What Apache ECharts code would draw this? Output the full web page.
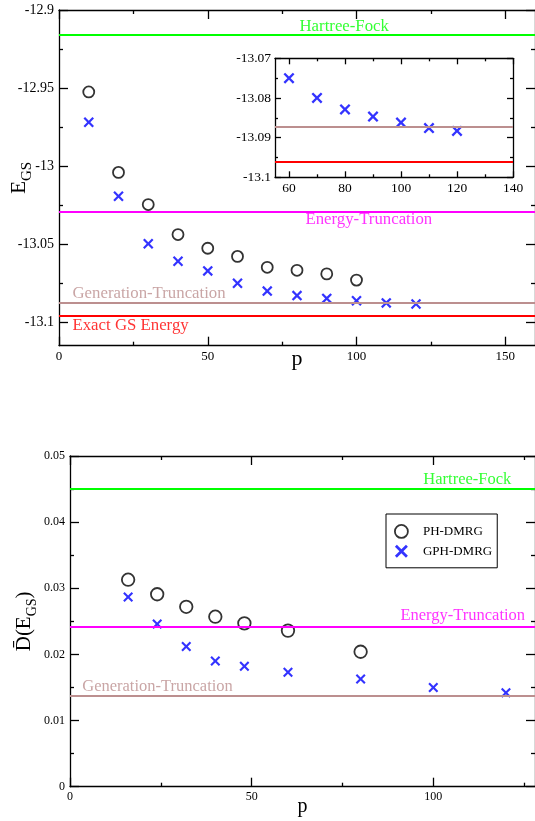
<!DOCTYPE html>
<html><head><meta charset="utf-8">
<script src="https://cdn.jsdelivr.net/npm/echarts@6/dist/echarts.min.js"></script>
<style>html,body{margin:0;padding:0;background:#fff}#c{width:535px;height:821px}</style>
</head><body><div id="c"></div>
<script>
// ---------- data ----------
const pTopPH  = [10, 20, 30, 40, 50, 60, 70, 80, 90, 100];
const eTopPH  = [-12.9525, -13.004, -13.0246, -13.0438, -13.0526, -13.0578, -13.0648, -13.0667, -13.069, -13.073];
const pTopGPH = [10, 20, 30, 40, 50, 60, 70, 80, 90, 100, 110, 120];
const eTopGPH = [-12.9719, -13.0193, -13.0497, -13.0609, -13.0671, -13.075, -13.080, -13.0829, -13.0847, -13.0862, -13.0876, -13.0883];
const pInset  = [60, 70, 80, 90, 100, 110, 120];
const eInset  = [-13.075, -13.080, -13.0829, -13.0847, -13.0862, -13.0876, -13.0883];
const refNamesTop  = ['Hartree-Fock', 'Energy-Truncation', 'Generation-Truncation', 'Exact GS Energy'];
const refValuesTop = [-12.916, -13.029, -13.0873, -13.096];

const pBotPH  = [16, 24, 32, 40, 48, 60, 80];
const dBotPH  = [0.0313, 0.0291, 0.0272, 0.0257, 0.0247, 0.0236, 0.0204];
const pBotGPH = [16, 24, 32, 40, 48, 60, 80, 100, 120];
const dBotGPH = [0.0287, 0.0246, 0.0212, 0.0190, 0.0182, 0.0173, 0.0163, 0.0150, 0.0142];
const refNamesBot  = ['Hartree-Fock', 'Energy-Truncation', 'Generation-Truncation'];
const refValuesBot = [0.0450, 0.0242, 0.0138];
const legendNames  = ['PH-DMRG', 'GPH-DMRG'];

const xTicksTop = [0, 50, 100, 150],          xMinorTop = [25, 75, 125];
const yTicksTop = [-13.1, -13.05, -13, -12.95, -12.9], yMinorTop = [-13.075, -13.025, -12.975, -12.925];
const xTicksIn  = [60, 80, 100, 120, 140],    xMinorIn  = [70, 90, 110, 130];
const yTicksIn  = [-13.1, -13.09, -13.08, -13.07], yMinorIn = [-13.095, -13.085, -13.075];
const xTicksBot = [0, 50, 100],               xMinorBot = [25, 75, 125];
const yTicksBot = [0, 0.01, 0.02, 0.03, 0.04, 0.05], yMinorBot = [0.005, 0.015, 0.025, 0.035, 0.045];

// ---------- styles ----------
const FONT = 'Liberation Serif';
const refColorsTop = ['#00ff00', '#ff00ff', '#bc8f8f', '#ff0000'];
const refColorsBot = ['#00ff00', '#ff00ff', '#bc8f8f'];
const XPATH = 'path://M0,1.5L1.5,0L5,3.5L8.5,0L10,1.5L6.5,5L10,8.5L8.5,10L5,6.5L1.5,10L0,8.5L3.5,5Z';
const AXC = {color: '#000', width: 1.3};

function zip(a, b) { return a.map((v, i) => [v, b[i]]); }

function axisSet(kind, gi, min, max, majors, minors, o) {
  const pos = kind === 'x' ? ['bottom', 'top'] : ['left', 'right'];
  const mk = (p, vals, len, showLine, showLabel) => {
    const a = {
      type: 'value', gridIndex: gi, min: min, max: max, position: p,
      nameMoveOverlap: false,
      axisLine: {show: showLine, onZero: false, lineStyle: AXC},
      axisTick: {show: true, inside: true, length: len, customValues: vals, lineStyle: AXC},
      axisLabel: {show: showLabel, customValues: majors, color: '#000', fontFamily: FONT,
                  fontSize: o.fontSize, margin: o.margin},
      splitLine: {show: false}
    };
    if (showLabel && o.name) Object.assign(a, o.name);
    return a;
  };
  return [
    mk(pos[0], majors, o.major, true, true),
    mk(pos[0], minors, o.minor, false, false),
    mk(pos[1], majors, o.major, true, false),
    mk(pos[1], minors, o.minor, false, false)
  ];
}

const xAxes = [].concat(
  axisSet('x', 0, 0, 160, xTicksTop, xMinorTop, {major: 9, minor: 4, fontSize: 13, margin: 4,
    name: {name: 'p', nameLocation: 'middle', nameGap: 3, nameTextStyle: {fontFamily: FONT, fontSize: 22, color: '#000'}}}),
  axisSet('x', 1, 55, 140, xTicksIn, xMinorIn, {major: 6, minor: 3, fontSize: 13.5, margin: 4}),
  axisSet('x', 2, 0, 128, xTicksBot, xMinorBot, {major: 9, minor: 4, fontSize: 12, margin: 4,
    name: {name: 'p', nameLocation: 'middle', nameGap: 10, nameTextStyle: {fontFamily: FONT, fontSize: 20, color: '#000'}}})
);
const yAxes = [].concat(
  axisSet('y', 0, -13.115, -12.9, yTicksTop, yMinorTop, {major: 9, minor: 4, fontSize: 14, margin: 5,
    name: {name: '{e|E}{s|GS}', nameLocation: 'middle', nameRotate: 90, nameGap: 28,
      nameTextStyle: {rich: {
        e: {fontFamily: FONT, fontSize: 21, color: '#000', verticalAlign: 'top', lineHeight: 22},
        s: {fontFamily: FONT, fontSize: 15, color: '#000', verticalAlign: 'top', lineHeight: 16, padding: [11, 0, 0, 0]}}}}}),
  axisSet('y', 1, -13.1, -13.07, yTicksIn, yMinorIn, {major: 6, minor: 3, fontSize: 13.5, margin: 4}),
  axisSet('y', 2, 0, 0.05, yTicksBot, yMinorBot, {major: 9, minor: 4, fontSize: 12, margin: 5,
    name: {name: '{d|D\u0304}{d|(E}{s|GS}{d|)}', nameLocation: 'middle', nameRotate: 90, nameGap: 34,
      nameTextStyle: {rich: {
        d: {fontFamily: FONT, fontSize: 21, color: '#000', verticalAlign: 'top', lineHeight: 22},
        s: {fontFamily: FONT, fontSize: 14, color: '#000', verticalAlign: 'top', lineHeight: 15, padding: [11, 0, 0, 0]}}}}})
);

const circleStyle = (sz) => ({type: 'scatter', symbol: 'circle', symbolSize: sz,
  itemStyle: {color: 'rgba(0,0,0,0)', borderColor: '#000', borderWidth: 1.8}});
const crossStyle = (sz) => ({type: 'scatter', symbol: XPATH, symbolSize: sz, itemStyle: {color: '#0000ff'}});

function refLines(gi, values, colors, width) {
  return {
    type: 'line', xAxisIndex: gi * 4, yAxisIndex: gi * 4, data: [], silent: true,
    markLine: {symbol: 'none', silent: true, animation: false, precision: 8, label: {show: false},
      data: values.map((v, i) => ({yAxis: v, lineStyle: {color: colors[i], width: width, type: 'solid'}}))}
  };
}
// placement of reference line captions: [x in data units, vertical pixel offset]
function refLabels(gi, names, values, colors, place, fs) {
  return names.map((n, i) => ({
    type: 'scatter', xAxisIndex: gi * 4, yAxisIndex: gi * 4, silent: true,
    symbolSize: 1, itemStyle: {color: 'rgba(0,0,0,0)'},
    data: [[place[i][0], values[i]]],
    label: {show: true, formatter: n, position: [0, place[i][1]], align: 'left', verticalAlign: 'middle',
      color: colors[i], fontFamily: FONT, fontSize: fs}
  }));
}

const series = [
  refLines(0, refValuesTop, refColorsTop, 2),
  ...refLabels(0, refNamesTop, refValuesTop, refColorsTop, [[81, -8], [83, 8.5], [4.7, -8.5], [4.7, 9.6]], 16.8),
  Object.assign(circleStyle(11), {name: 'PH top', xAxisIndex: 0, yAxisIndex: 0, data: zip(pTopPH, eTopPH)}),
  Object.assign(crossStyle(10.5), {name: 'GPH top', xAxisIndex: 0, yAxisIndex: 0, data: zip(pTopGPH, eTopGPH)}),

  refLines(1, [refValuesTop[2], refValuesTop[3]], [refColorsTop[2], refColorsTop[3]], 2),
  Object.assign(crossStyle(11), {name: 'GPH inset', xAxisIndex: 4, yAxisIndex: 4, data: zip(pInset, eInset)}),

  refLines(2, refValuesBot, refColorsBot, 2),
  ...refLabels(2, refNamesBot, refValuesBot, refColorsBot, [[97.4, -8.7], [91.1, -10.4], [3.5, -8.6]], 16.5),
  Object.assign(circleStyle(12.5), {name: legendNames[0], xAxisIndex: 8, yAxisIndex: 8, data: zip(pBotPH, dBotPH)}),
  Object.assign(crossStyle(10), {name: legendNames[1], xAxisIndex: 8, yAxisIndex: 8, data: zip(pBotGPH, dBotGPH)})
];

const option = {
  animation: false,
  backgroundColor: '#fff',
  textStyle: {fontFamily: FONT},
  grid: [
    {left: 59, top: 10, right: 0, height: 335.7, containLabel: false, outerBoundsMode: 'none'},
    {left: 275, top: 58.3, width: 238, height: 119, containLabel: false, outerBoundsMode: 'none'},
    {left: 70, top: 456, right: 0, height: 330.7, containLabel: false, outerBoundsMode: 'none'}
  ],
  xAxis: xAxes,
  yAxis: yAxes,
  legend: {
    left: 386, top: 514, orient: 'vertical', selectedMode: false,
    padding: [10, 5, 10, 8], itemWidth: 13, itemHeight: 13, itemGap: 6,
    borderColor: '#000', borderWidth: 1, backgroundColor: '#fff',
    textStyle: {fontFamily: FONT, fontSize: 13, color: '#000', padding: [0, 0, 0, 10]},
    data: [
      {name: legendNames[0], icon: 'circle', itemStyle: {color: 'rgba(0,0,0,0)', borderColor: '#000', borderWidth: 1.8}},
      {name: legendNames[1], icon: XPATH, itemStyle: {color: '#0000ff'}}
    ]
  },
  series: series
};
const chart = echarts.init(document.getElementById('c'), null, {renderer: 'canvas'});
chart.setOption(option);
</script></body></html>
